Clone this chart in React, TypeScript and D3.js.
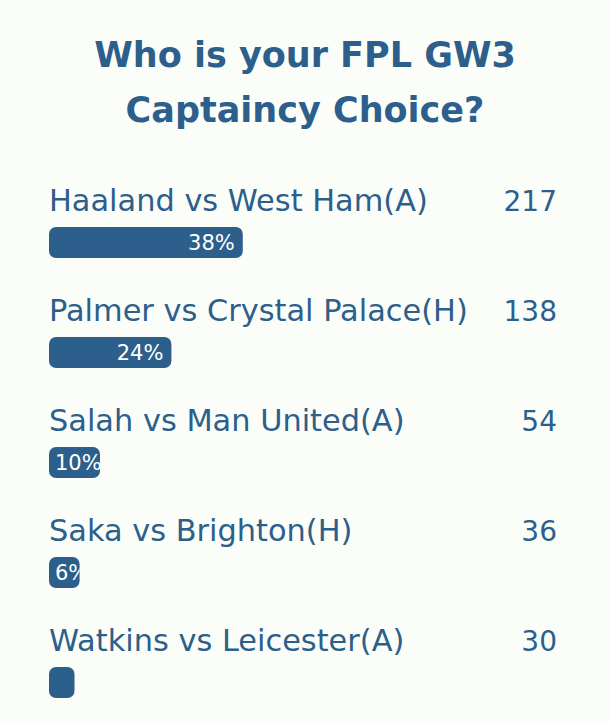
import React, { useEffect, useRef } from 'react';
import * as d3 from 'd3';

const titleLines = ['Who is your FPL GW3', 'Captaincy Choice?'];
const options = [
  'Haaland vs West Ham(A)',
  'Palmer vs Crystal Palace(H)',
  'Salah vs Man United(A)',
  'Saka vs Brighton(H)',
  'Watkins vs Leicester(A)',
];
const votes = [217, 138, 54, 36, 30];
const percents = [38, 24, 10, 6, 5];

const BLUE = '#2c5f8b';
const BG = '#fbfdf9';
const FONT = '"DejaVu Sans", "Open Sans", sans-serif';

export default function App() {
  const svgRef = useRef<SVGSVGElement>(null);

  useEffect(() => {
    if (!svgRef.current) return;
    const width = 610;
    const height = 722;

    const svg = d3.select(svgRef.current)
      .attr('width', width)
      .attr('height', height);
    svg.selectAll('*').remove();

    svg.append('rect')
      .attr('width', width)
      .attr('height', height)
      .attr('fill', BG);

    // title
    svg.append('g')
      .selectAll('text')
      .data(titleLines)
      .join('text')
      .attr('x', width / 2)
      .attr('y', (_, i) => 67 + i * 55)
      .attr('text-anchor', 'middle')
      .attr('fill', BLUE)
      .style('font-family', FONT)
      .style('font-weight', 700)
      .style('font-size', '35px')
      .text(d => d);

    const x = d3.scaleLinear().domain([0, 100]).range([49, 559]);
    const y = d3.scaleBand<string>().domain(options).range([170, 720]);
    const barH = 31;

    const rows = svg.selectAll('g.row')
      .data(options.map((label, i) => ({ label, votes: votes[i], pct: percents[i], i })))
      .join('g')
      .attr('class', 'row')
      .attr('transform', d => `translate(0,${y(d.label)})`);

    rows.append('text')
      .attr('x', x(0))
      .attr('y', 41)
      .attr('fill', BLUE)
      .style('font-family', FONT)
      .style('font-size', '30.4px')
      .text(d => d.label);

    rows.append('text')
      .attr('x', x(100) - 2)
      .attr('y', 41)
      .attr('text-anchor', 'end')
      .attr('fill', BLUE)
      .style('font-family', FONT)
      .style('font-size', '28px')
      .text(d => d.votes);

    const defs = svg.append('defs');
    rows.each(function (d) {
      defs.append('clipPath')
        .attr('id', `clip-${d.i}`)
        .append('rect')
        .attr('x', x(0))
        .attr('y', 57)
        .attr('width', x(d.pct) - x(0))
        .attr('height', barH)
        .attr('rx', 7);
    });

    rows.append('rect')
      .attr('x', x(0))
      .attr('y', 57)
      .attr('width', d => x(d.pct) - x(0))
      .attr('height', barH)
      .attr('rx', 7)
      .attr('fill', BLUE);

    rows.filter(d => d.pct > 5)
      .append('text')
      .attr('clip-path', d => `url(#clip-${d.i})`)
      .attr('y', 57 + barH / 2)
      .attr('dy', '0.36em')
      .attr('fill', '#fff')
      .style('font-family', FONT)
      .style('font-size', '21px')
      .text(d => `${d.pct}%`)
      .each(function (d) {
        const node = this as SVGTextElement;
        const w = node.getComputedTextLength();
        const end = x(d.pct) - 8;
        const start = Math.max(x(0) + 6, end - w);
        d3.select(node).attr('x', start);
      });
  }, []);

  return (
    <svg
      ref={svgRef}
      style={{ position: 'fixed', top: 0, left: 0, display: 'block' }}
    />
  );
}
